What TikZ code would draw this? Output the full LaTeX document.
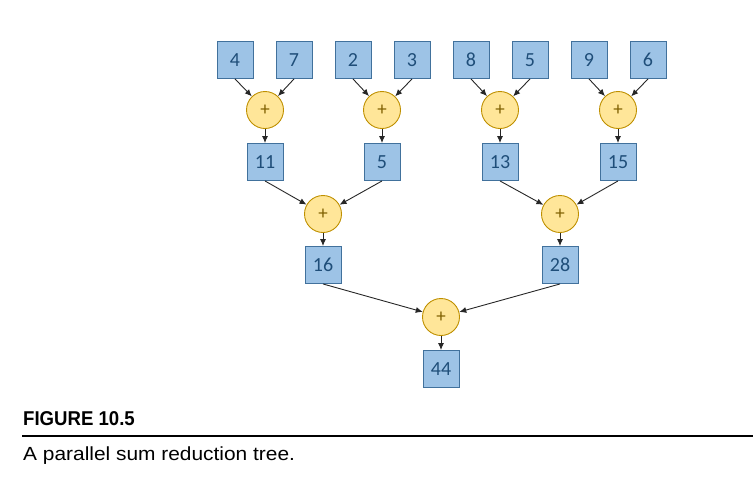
\documentclass[tikz,border=0pt]{standalone}
\usepackage{fontspec}
\setmainfont{Carlito}
\newfontfamily\capfont[FakeStretch=0.93]{Liberation Sans}
\newfontfamily\captxt[FakeStretch=1.1]{Liberation Sans}
\usetikzlibrary{arrows.meta}
\definecolor{boxfill}{HTML}{9DC3E6}
\definecolor{boxline}{HTML}{41719C}
\definecolor{numtxt}{HTML}{1F4E79}
\definecolor{circfill}{HTML}{FFE699}
\definecolor{circline}{HTML}{BF9000}
\definecolor{plustxt}{HTML}{7F6000}
\tikzset{
  valbox/.style={draw=boxline, fill=boxfill, line width=0.9pt, minimum width=36pt, minimum height=37pt, inner sep=0pt, text=numtxt, font=\fontsize{20}{20}\selectfont},
  addop/.style={circle, draw=circline, fill=circfill, line width=0.9pt, minimum size=37pt, inner sep=0pt, text=plustxt, font=\fontsize{19}{19}\selectfont},
  link/.style={-{Latex[length=7pt,width=6pt]}, line width=0.9pt, black!85},
}
\begin{document}
\begin{tikzpicture}[x=1pt,y=-1pt]
\useasboundingbox (0,0) rectangle (753,483);
% top row
\node[valbox] (a1) at (235,60) {4};
\node[valbox] (a2) at (294,60) {7};
\node[valbox] (a3) at (353,60) {2};
\node[valbox] (a4) at (412,60) {3};
\node[valbox] (a5) at (471,60) {8};
\node[valbox] (a6) at (530,60) {5};
\node[valbox] (a7) at (589,60) {9};
\node[valbox] (a8) at (648,60) {6};
% first adds
\node[addop] (p1) at (265,110) {+};
\node[addop] (p2) at (382,110) {+};
\node[addop] (p3) at (500,110) {+};
\node[addop] (p4) at (618,110) {+};
\node[valbox] (b1) at (265,162) {11};
\node[valbox] (b2) at (382,162) {5};
\node[valbox] (b3) at (500,162) {13};
\node[valbox] (b4) at (618,162) {15};
% second adds
\node[addop] (q1) at (323,214) {+};
\node[addop] (q2) at (560,214) {+};
\node[valbox] (c1) at (323,265) {16};
\node[valbox] (c2) at (560,265) {28};
% final
\node[addop] (r1) at (441,317) {+};
\node[valbox] (d1) at (441,369) {44};
% connectors
\draw[link] (a1.south) -- (p1);
\draw[link] (a2.south) -- (p1);
\draw[link] (a3.south) -- (p2);
\draw[link] (a4.south) -- (p2);
\draw[link] (a5.south) -- (p3);
\draw[link] (a6.south) -- (p3);
\draw[link] (a7.south) -- (p4);
\draw[link] (a8.south) -- (p4);
\draw[link] (p1) -- (b1);
\draw[link] (p2) -- (b2);
\draw[link] (p3) -- (b3);
\draw[link] (p4) -- (b4);
\draw[link] (b1.south) -- (q1);
\draw[link] (b2.south) -- (q1);
\draw[link] (b3.south) -- (q2);
\draw[link] (b4.south) -- (q2);
\draw[link] (q1) -- (c1);
\draw[link] (q2) -- (c2);
\draw[link] (c1.south) -- (r1);
\draw[link] (c2.south) -- (r1);
\draw[link] (r1) -- (d1);
% caption
\node[anchor=base west, inner sep=0pt, font=\capfont\bfseries\fontsize{20}{20}\selectfont] (fig) at (23,425) {FIGURE 10.5};
\coordinate (rl) at (22,435.5);
\coordinate (rr) at (753,435.5);
\draw[line width=2pt] (rl) -- (rr);
\node[anchor=base west, inner sep=0pt, font=\captxt\fontsize{19}{19}\selectfont] (cap) at (23,460) {A parallel sum reduction tree.};
\end{tikzpicture}
\end{document}
